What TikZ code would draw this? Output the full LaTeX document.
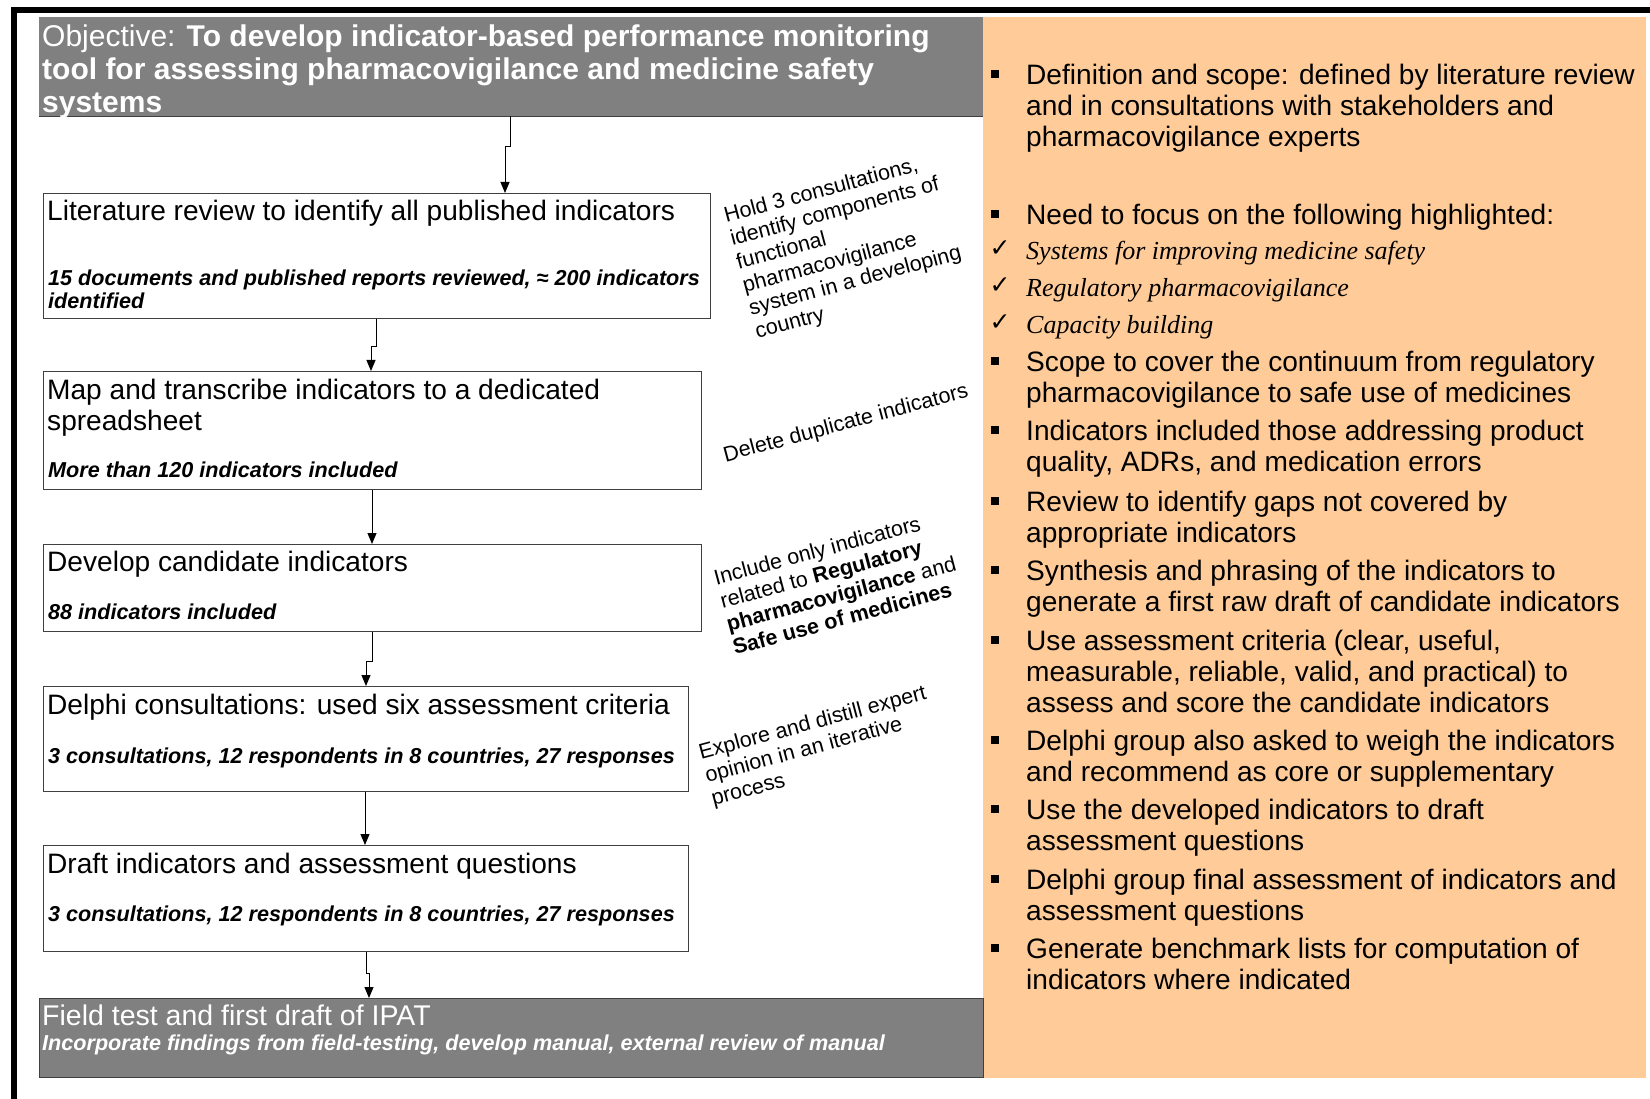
\documentclass[tikz,border=0pt]{standalone}
\usepackage{fontspec}
\setmainfont{Liberation Sans}
\newfontfamily\tnr{Liberation Serif}
\newfontfamily\djv{DejaVu Sans}
\usetikzlibrary{arrows.meta}
\definecolor{panelorange}{HTML}{FFCC99}
\definecolor{boxgray}{HTML}{808080}
\definecolor{edgegray}{HTML}{404040}
\begin{document}
\begin{tikzpicture}[x=1pt,y=-1pt,
  stepbox/.style={draw=edgegray,line width=1.2pt,fill=white,inner sep=0pt,anchor=north west},
  graybox/.style={fill=boxgray,inner sep=0pt,anchor=north west},
  ttl/.style={anchor=north west,inner sep=0pt,align=left,font=\fontsize{28.1}{31}\selectfont},
  sub/.style={anchor=north west,inner sep=0pt,align=left,font=\fontsize{21.6}{23}\selectfont\bfseries\itshape},
  note/.style={rotate=15,inner sep=0pt,align=left,font=\fontsize{21.5}{24}\selectfont},
  rtxt/.style={anchor=north west,inner sep=0pt,align=left,font=\fontsize{28.1}{31}\selectfont},
  chk/.style={anchor=north west,inner sep=0pt,font=\fontsize{26}{30}\selectfont\tnr\itshape},
  sq/.style={fill=black,minimum size=7.5pt,inner sep=0pt},
  tick/.style={inner sep=0pt,font=\fontsize{25}{28}\selectfont\djv},
  arr/.style={draw=black,line width=1pt,-{Triangle[length=11pt,width=9pt]}},
]
\useasboundingbox[fill=white] (0,0) rectangle (1650,1099);

% frame
\draw[line width=6pt] (11,10) -- (1650,10);
\draw[line width=6pt] (14,7) -- (14,1099);

% orange panel
\node[fill=panelorange,inner sep=0pt,anchor=north west,minimum width=663pt,minimum height=1061pt] (panel) at (983,17) {};

% objective
\node[graybox,minimum width=944pt,minimum height=99pt] (obj) at (39,17) {};
\draw[edgegray,line width=1.2pt] (obj.south west) -- (obj.south east);
\node[anchor=north west,inner sep=0pt,align=left,text=white,font=\fontsize{30}{33}\selectfont] (objt) at (42,25)
 {Objective: \textbf{To develop indicator-based performance monitoring}\\
  \textbf{tool for assessing pharmacovigilance and medicine safety}\\
  \textbf{systems}};

% step boxes
\node[stepbox,minimum width=667pt,minimum height=125pt] (b1) at (43,193) {};
\node[stepbox,minimum width=658pt,minimum height=118pt] (b2) at (43,371) {};
\node[stepbox,minimum width=658pt,minimum height=87pt] (b3) at (43,544) {};
\node[stepbox,minimum width=645pt,minimum height=105pt] (b4) at (43,686) {};
\node[stepbox,minimum width=645pt,minimum height=106pt] (b5) at (43,845) {};

\node[ttl] (b1t) at (47,200) {Literature review to identify all published indicators};
\node[sub] (b1s) at (48,270) {15 documents and published reports reviewed, ≈ 200 indicators\\identified};
\node[ttl] (b2t) at (47,379) {Map and transcribe indicators to a dedicated\\spreadsheet};
\node[sub] (b2s) at (48,462) {More than 120 indicators included};
\node[ttl] (b3t) at (47,551) {Develop candidate indicators};
\node[sub] (b3s) at (48,604) {88 indicators included};
\node[ttl] (b4t) at (47,694) {Delphi consultations: used six assessment criteria};
\node[sub] (b4s) at (48,748) {3 consultations, 12 respondents in 8 countries, 27 responses};
\node[ttl] (b5t) at (47,853) {Draft indicators and assessment questions};
\node[sub] (b5s) at (48,906) {3 consultations, 12 respondents in 8 countries, 27 responses};

% bottom gray box
\node[graybox,draw=edgegray,line width=1pt,minimum width=944pt,minimum height=79pt] (fld) at (39,998) {};
\node[anchor=north west,inner sep=0pt,text=white,font=\fontsize{28.5}{31}\selectfont] (fldt) at (42,1005) {Field test and first draft of IPAT};
\node[anchor=north west,inner sep=0pt,text=white,font=\fontsize{21.6}{23}\selectfont\bfseries\itshape] (flds) at (42,1035) {Incorporate findings from field-testing, develop manual, external review of manual};

% connectors
\coordinate (k1a) at (510,147); \coordinate (k1b) at (505,147);
\draw[arr] (obj.south -| k1a) -- (k1a) -- (k1b) -- (b1.north -| k1b);
\coordinate (k2a) at (376,347); \coordinate (k2b) at (371,347);
\draw[arr] (b1.south -| k2a) -- (k2a) -- (k2b) -- (b2.north -| k2b);
\coordinate (k3) at (372,500);
\draw[arr] (b2.south -| k3) -- (b3.north -| k3);
\coordinate (k4a) at (372,661); \coordinate (k4b) at (366,661);
\draw[arr] (b3.south -| k4a) -- (k4a) -- (k4b) -- (b4.north -| k4b);
\coordinate (k5) at (365,820);
\draw[arr] (b4.south -| k5) -- (b5.north -| k5);
\coordinate (k6a) at (366,973); \coordinate (k6b) at (369,973);
\draw[arr] (b5.south -| k6a) -- (k6a) -- (k6b) -- (fld.north -| k6b);

% rotated notes
\node[note] (n1) at (846,247) {Hold 3 consultations,\\identify components of\\functional\\pharmacovigilance\\system in a developing\\country};
\node[note] (n2) at (846,424) {Delete duplicate indicators};
\node[note] (n3) at (838,582) {Include only indicators\\related to \textbf{Regulatory}\\\textbf{pharmacovigilance} and\\\textbf{Safe use of medicines}};
\node[note] (n4) at (819,747) {Explore and distill expert\\opinion in an iterative\\process};

% right panel
\node[sq] (q1) at (995,74) {};
\node[rtxt] (r1) at (1026,64) {Definition and scope: defined by literature review\\and in consultations with stakeholders and\\pharmacovigilance experts};
\node[sq] (q2) at (995,214) {};
\node[rtxt] (r2) at (1026,204) {Need to focus on the following highlighted:};
\node[tick] (t3) at (1000,249) {✓};
\node[chk] (r3) at (1026,241) {Systems for improving medicine safety};
\node[tick] (t4) at (1000,286) {✓};
\node[chk] (r4) at (1026,278) {Regulatory pharmacovigilance};
\node[tick] (t5) at (1000,323) {✓};
\node[chk] (r5) at (1026,315) {Capacity building};
\node[sq] (q6) at (995,361) {};
\node[rtxt] (r6) at (1026,351) {Scope to cover the continuum from regulatory\\pharmacovigilance to safe use of medicines};
\node[sq] (q7) at (995,430) {};
\node[rtxt] (r7) at (1026,420) {Indicators included those addressing product\\quality, ADRs, and medication errors};
\node[sq] (q8) at (995,501) {};
\node[rtxt] (r8) at (1026,491) {Review to identify gaps not covered by\\appropriate indicators};
\node[sq] (q9) at (995,570) {};
\node[rtxt] (r9) at (1026,560) {Synthesis and phrasing of the indicators to\\generate a first raw draft of candidate indicators};
\node[sq] (q10) at (995,640) {};
\node[rtxt] (r10) at (1026,630) {Use assessment criteria (clear, useful,\\measurable, reliable, valid, and practical) to\\assess and score the candidate indicators};
\node[sq] (q11) at (995,740) {};
\node[rtxt] (r11) at (1026,730) {Delphi group also asked to weigh the indicators\\and recommend as core or supplementary};
\node[sq] (q12) at (995,809) {};
\node[rtxt] (r12) at (1026,799) {Use the developed indicators to draft\\assessment questions};
\node[sq] (q13) at (995,879) {};
\node[rtxt] (r13) at (1026,869) {Delphi group final assessment of indicators and\\assessment questions};
\node[sq] (q14) at (995,948) {};
\node[rtxt] (r14) at (1026,938) {Generate benchmark lists for computation of\\indicators where indicated};
\end{tikzpicture}
\end{document}
